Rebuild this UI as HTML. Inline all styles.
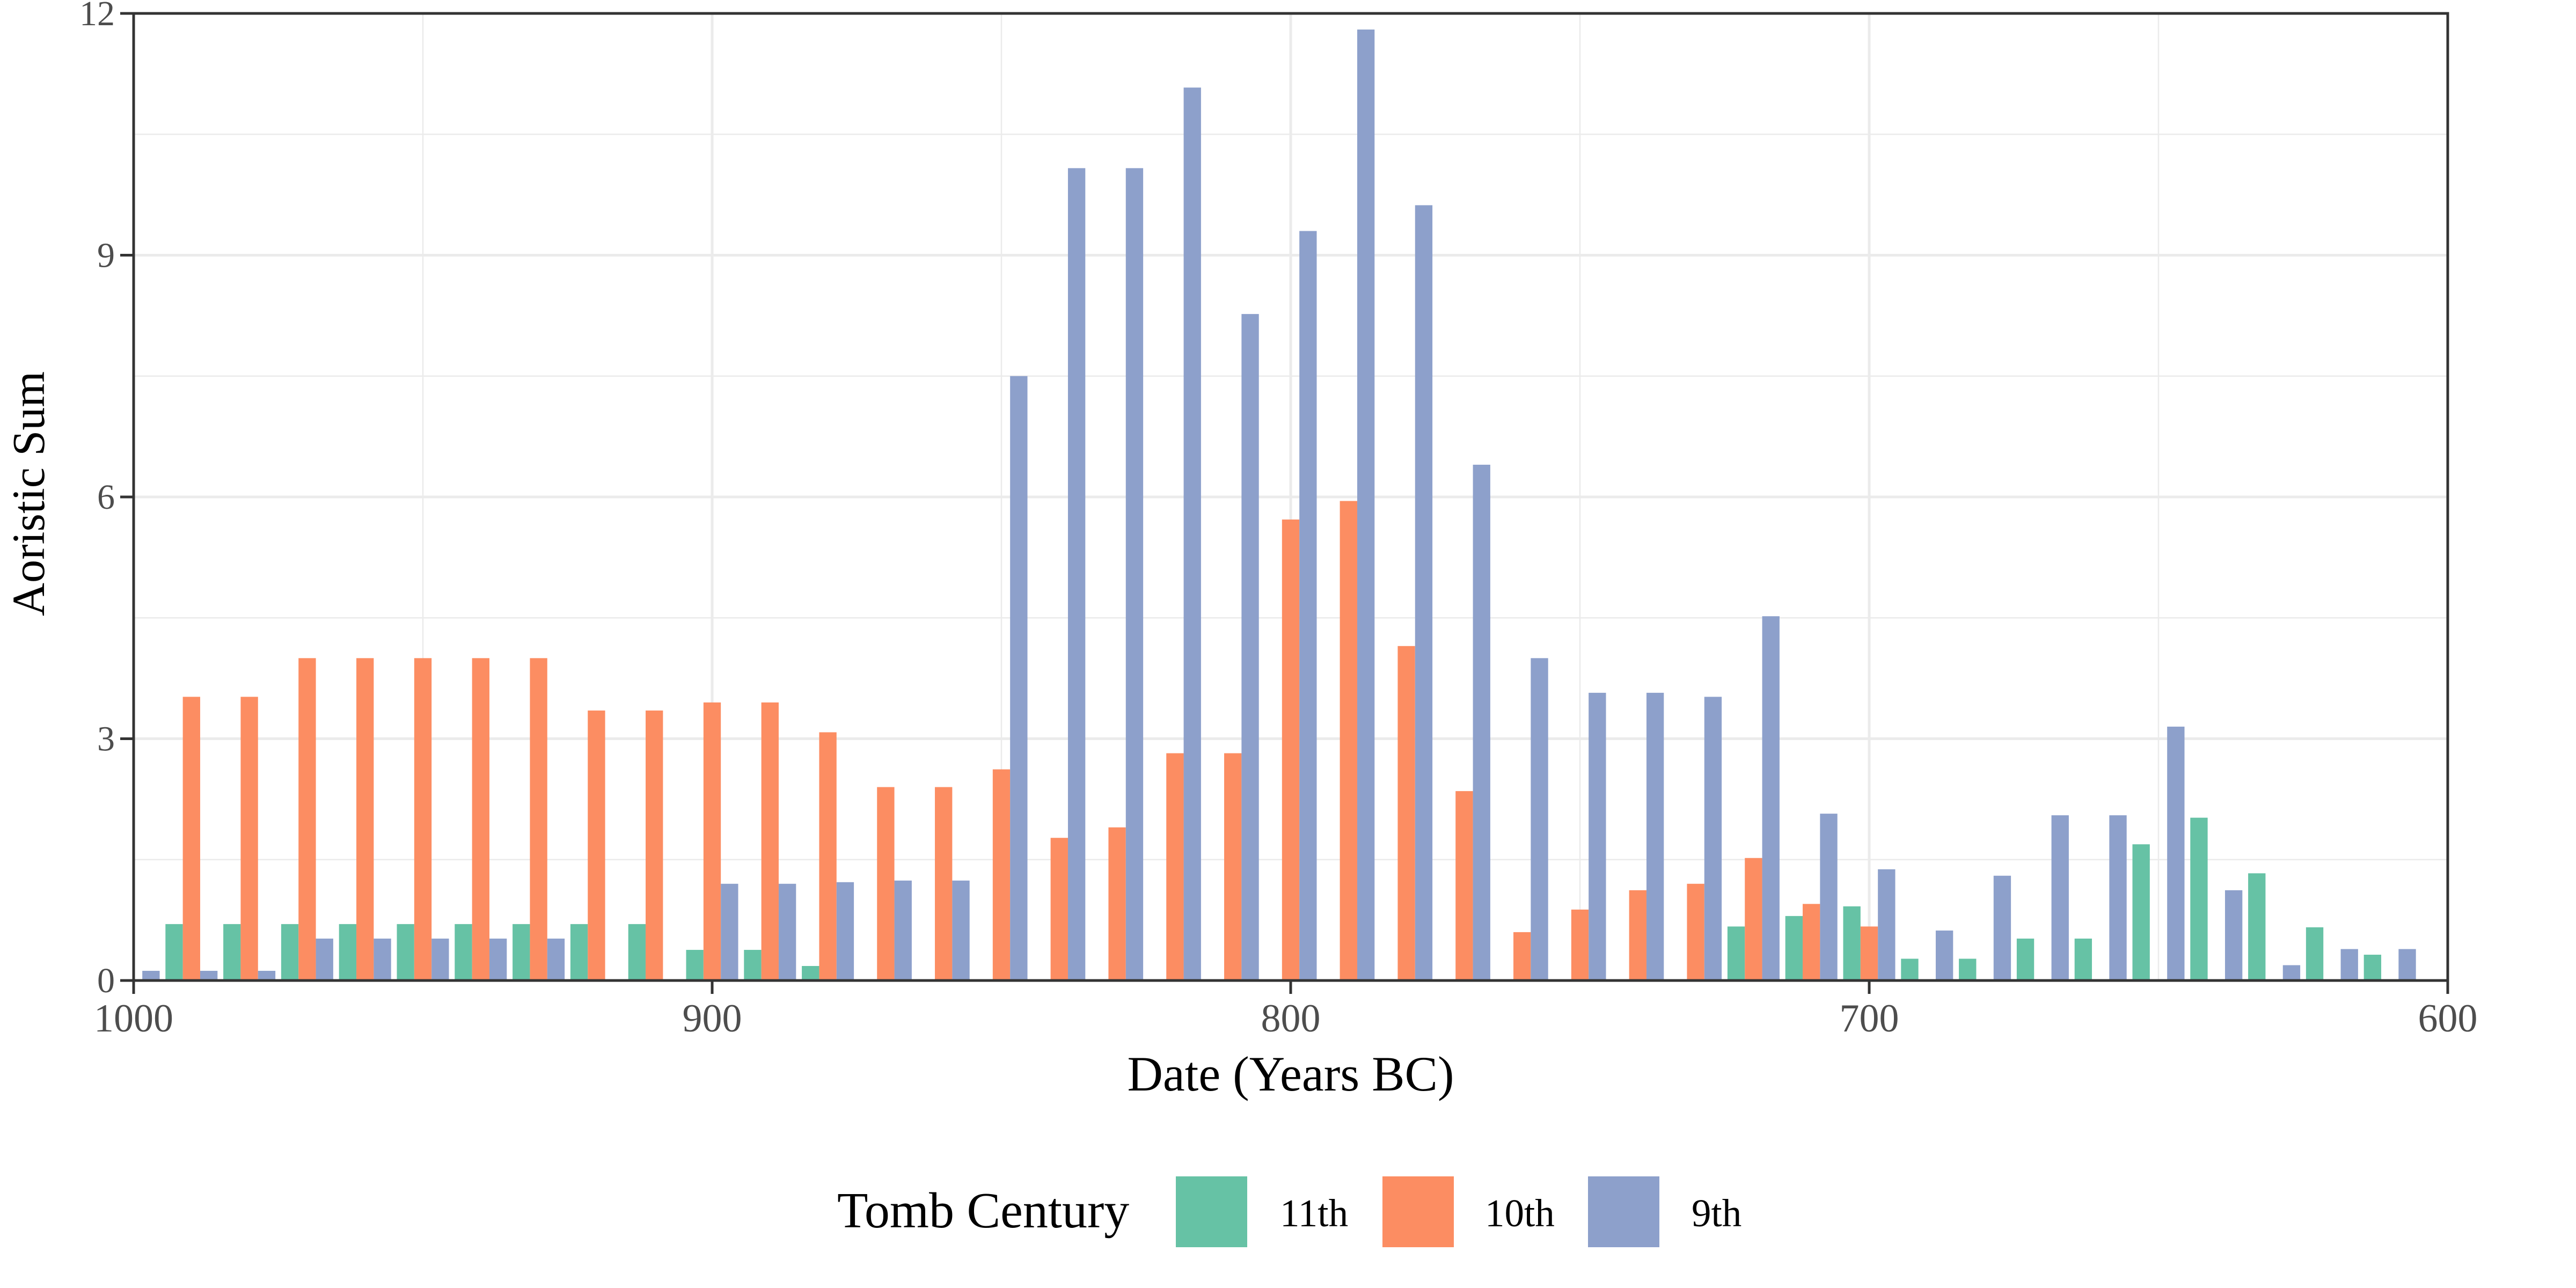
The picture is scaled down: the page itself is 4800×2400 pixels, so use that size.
<!DOCTYPE html>
<html><head><meta charset="utf-8"><style>
html,body{margin:0;padding:0;background:#fff;}
svg{display:block;}
text{font-family:"Liberation Serif",serif;}
</style></head><body>
<svg id="chart" width="4800" height="2400" viewBox="0 0 4800 2400" xmlns="http://www.w3.org/2000/svg">
<g id="grid"></g>
<g id="bars"></g>
<g id="axes"></g>
<text x="2405" y="2032" font-size="92" text-anchor="middle" fill="#000">Date (Years BC)</text>
<text transform="translate(82,920) rotate(-90)" font-size="86" text-anchor="middle" fill="#000">Aoristic Sum</text>
<g>
<text x="1560" y="2287" font-size="94" fill="#000">Tomb Century</text>
<rect x="2191" y="2192" width="133" height="132" fill="#66c2a5"/>
<text x="2385" y="2285" font-size="73" fill="#000">11th</text>
<rect x="2576" y="2192" width="133" height="132" fill="#fc8d62"/>
<text x="2767" y="2285" font-size="73" fill="#000">10th</text>
<rect x="2959" y="2192" width="133" height="132" fill="#8da0cb"/>
<text x="3152" y="2285" font-size="73" fill="#000">9th</text>
</g>
</svg>
<script>
const years = [1000,990,980,970,960,950,940,930,920,910,900,890,880,870,860,850,840,830,820,810,800,790,780,770,760,750,740,730,720,710,700,690,680,670,660,650,640,630,620,610];
const c11 = [0,0.7,0.7,0.7,0.7,0.7,0.7,0.7,0.7,0.7,0.38,0.38,0.18,0,0,0,0,0,0,0,0,0,0,0,0,0,0,0,0.67,0.8,0.92,0.27,0.27,0.52,0.52,1.69,2.02,1.33,0.66,0.32];
const c10 = [0,3.52,3.52,4,4,4,4,4,3.35,3.35,3.45,3.45,3.08,2.4,2.4,2.62,1.77,1.9,2.82,2.82,5.72,5.95,4.15,2.35,0.6,0.88,1.12,1.2,1.52,0.95,0.67,0,0,0,0,0,0,0,0,0];
const c9 = [0.12,0.12,0.12,0.52,0.52,0.52,0.52,0.52,0,0,1.2,1.2,1.22,1.24,1.24,7.5,10.08,10.08,11.08,8.27,9.3,11.8,9.62,6.4,4.0,3.57,3.57,3.52,4.52,2.07,1.38,0.62,1.3,2.05,2.05,3.15,1.12,0.19,0.39,0.39];
const yTicks = [0,3,6,9,12];
const xTicks = [1000,900,800,700,600];
const xMinor = [950,850,750,650];
const yMinor = [1.5,4.5,7.5,10.5];

const L=249,R=4561,T=25,B=1827;
const xs = y => L + (1000 - y) / 400 * (R - L);
const ys = v => B - v / 12 * (B - T);
const NS="http://www.w3.org/2000/svg";
function mk(tag, parent, attrs){const e=document.createElementNS(NS,tag);for(const k in attrs)e.setAttribute(k,attrs[k]);parent.appendChild(e);return e;}
const grid=document.getElementById('grid'), bars=document.getElementById('bars'), axes=document.getElementById('axes');
yMinor.forEach(v=>{const l=mk('line',grid,{x1:L,x2:R,y1:ys(v),y2:ys(v),stroke:'#ebebeb','stroke-width':2.5});

});
xMinor.forEach(v=>{const l=mk('line',grid,{x1:xs(v),x2:xs(v),y1:T,y2:B,stroke:'#ebebeb','stroke-width':2.5});

});
yTicks.forEach(v=>{const l=mk('line',grid,{x1:L,x2:R,y1:ys(v),y2:ys(v),stroke:'#ebebeb','stroke-width':5});

});
xTicks.forEach(v=>{const l=mk('line',grid,{x1:xs(v),x2:xs(v),y1:T,y2:B,stroke:'#ebebeb','stroke-width':5});

});

const bw = (R-L)/40*0.9/3;
const series=[[c11,'#66c2a5','11th',-1],[c10,'#fc8d62','10th',0],[c9,'#8da0cb','9th',1]];
years.forEach((yr,i)=>{
  series.forEach(([arr,col,nm,off])=>{
    const v=arr[i]; if(!v) return;
    const cx=xs(yr)+off*bw;
    const r=mk('rect',bars,{x:cx-bw/2,y:ys(v),width:bw,height:B-ys(v),fill:col});
    
    
  });
});

const frame=mk('rect',axes,{x:L,y:T,width:R-L,height:B-T,fill:'none',stroke:'#333','stroke-width':5});


yTicks.forEach(v=>{
  const t=mk('line',axes,{x1:L-25,x2:L,y1:ys(v),y2:ys(v),stroke:'#333','stroke-width':5});
  
  
  const tx=mk('text',axes,{x:L-35,y:ys(v)+22,'font-size':66,'text-anchor':'end',fill:'#4d4d4d'});
  tx.textContent=v;
  
  
});
xTicks.forEach(v=>{
  const t=mk('line',axes,{x1:xs(v),x2:xs(v),y1:B,y2:B+25,stroke:'#333','stroke-width':5});
  
  
  const tx=mk('text',axes,{x:xs(v),y:B+95,'font-size':74,'text-anchor':'middle',fill:'#4d4d4d'});
  tx.textContent=v;
  
  
});
</script>
</body></html>
